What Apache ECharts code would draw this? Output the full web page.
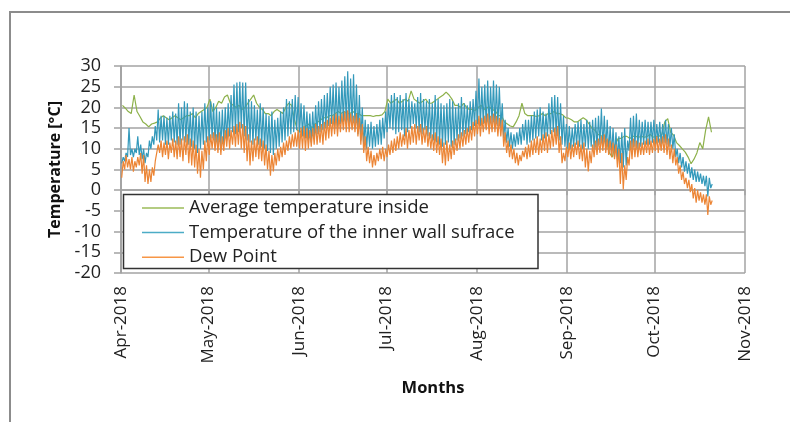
<!DOCTYPE html>
<html><head><meta charset="utf-8">
<script src="https://cdn.jsdelivr.net/npm/echarts@6/dist/echarts.min.js"></script>
<style>html,body{margin:0;padding:0;background:#fff}#c{width:790px;height:422px}</style>
</head><body><div id="c"></div>
<script>
// ---- data (one value per day from 1 Apr 2018) ----
const seriesNames = ['Average temperature inside', 'Temperature of the inner wall sufrace', 'Dew Point'];
const monthNames = ['Jan','Feb','Mar','Apr','May','Jun','Jul','Aug','Sep','Oct','Nov','Dec'];
const yMin = -20, yMax = 30, yStep = 5;

// Average temperature inside (daily)
const avgInside = [
20.5,19.8,19,18.5,23,19,17.8,16.5,16,15.3,
16,16.2,16.5,17.4,18,17.5,17,17.5,18,17.5,
17,17.5,18,18,18.5,17.5,18.5,19,19.5,20,
22,19,20,21.5,21,22.5,23,21,20.5,20,
20.5,19.5,20,21,22,23,21,20,19.5,18.5,
18.5,18,19,19.5,19,18.5,20,21,20.5,17,
14.5,14,15,15.5,16,15,16,16.5,17,17.5,
17.5,18,18,18.5,19,18.5,19,18.5,18.5,19,
18.5,18.5,18,18,18,18,17.8,18,18,18.2,
19,22,21,21.5,22,21,21.5,22,21.5,24,
22,21.5,21,21.5,22,21,21,21.5,22,22.5,
23,23.7,23,22,20.5,20.5,20,21,20,19.5,
19.5,19.3,20,20.5,19.5,20,20,19.5,19,18,
18,16.5,16,15.5,15.3,16.5,18,21,18.5,18,
18,18,17.8,18,18.5,18,18.5,18.5,19,18.5,
18.5,18.2,17.5,17.4,17,16.5,16.5,17,17.5,17,
16,15,14.5,13.5,13.3,12.5,12,9,8,11,
12.5,12.5,13,13,12.5,13,13,12.8,13,12.8,
13,13.5,12.8,13,13,13.5,16.5,17.3,14,13.3,
11.5,10.8,10,9.2,8,6.4,7.5,9,11.5,10,
14.5,17.7,14
];
// Inner wall surface: daily high / low
const wallHigh = [
8,9,15,10,10,13,11,10,9,12,
13,15.5,19.5,18,18,17.5,18,19,18.5,21,
20,21.5,21,19,20,19,18,19,21,20,
21.5,21,20,19,19.5,20,21,23,25.5,26,
26.2,26,26,22,21.5,20.5,19.5,21,20,18.5,
18,19,17,17.5,19,20,22,21.5,22,23,
22.5,21,20.5,19,18.5,19,20.5,21.5,22,23,
23.5,25,25.5,26,25,26.5,27.5,28.7,27,28,
25.5,23,20,17,16,16.5,15.5,16,17,17.5,
19,21,23,23.5,22.5,23,22,23.5,22,21.5,
21,22.5,23.5,22,21.5,22,21,23,22,21,
20.5,21,22,21.5,20,21,22.5,21,20.5,21.5,
22,24,27,25,25.5,26.5,25,26.5,25.5,25,
21,17,15,14,13.5,14,15,16,17,17,
18,19,19.5,20,19,18.5,21,22.5,23,22.5,
21,18,16,15.5,15,16,16.5,17,16,17,
16.5,17,17.5,18,19.7,18,17,15.5,15,14,
13,14,15,12,17.5,18,18.5,17,16.5,17,
16.5,16.5,17,16,16.5,16,17,16,15,13.5,
10,9,8,7,6.5,5.5,5,4.5,4,3.5,
3.5,3,1.5
];
const wallLow = [
6.5,7,8,8.5,8,9,8.5,7.5,6.5,8,
10,11,12,11.5,12,11,11,12,11.5,11,
11,12,11.5,11,10.5,10,9,10,11,11.5,
12,12.5,11,11,10.5,11,12,13,14,13.5,
14,15,13,12,11.5,11,12,11,10.5,10,
9.5,9,8.5,10,10.5,11.5,12,13,13.5,14,
14.5,14,13,12.5,12,11.5,12.5,13.5,14,14.5,
15,15.5,16,15,15,16,16.5,16,15.5,16,
15,13.5,12,10.5,10,10.5,10,10.5,11,11,
12.5,14,15,14.5,13.5,14,14.5,13,14,15,
16,15,14,13.5,14.5,13,12.5,12,11.5,11,
10.5,11,11.5,10.5,11,12,12.5,13,13.5,14,
14.5,15.5,16,15.5,16,15,15.5,16,15,15.5,
15,12.5,11.5,10.5,10,10.5,11,11,12,11,
11.5,12,12.5,13,12,12.5,13,13.5,14,13,
12,11,10.5,10,10,10.5,11,10.5,10,10.5,
10,10.5,10,10,11,10.5,10,9,8.5,8,
7.5,6.5,5.5,6,9.5,10,10.5,10,10.5,11,
11,11,11.5,11,11.5,11,11.5,11,10.5,10,
8,6.5,5.5,4.5,4,3,2.5,2,2,1.5,
1,-1.5,0.5
];
// Dew point: daily high / low
const dewHigh = [
7,8.5,7.5,8,7,8,9,8.5,6,5,
5.5,7,11,12,11.5,12,11.5,12.5,12,13,
12.5,13,13.5,12.5,12,11,10,9.5,12,13,
13.5,14,13.5,14,13,14.5,15,14.5,15.5,16,
16.5,16,15.5,13.5,12,12.5,13,12.5,12,11,
9.5,8.5,9,10,10.5,11.5,12,13,13.5,14,
14.5,15,15.5,15,14.5,15,16,15.5,16,16.5,
17,17.5,18,18.5,18,18.5,19,19.3,18.5,18,
18.5,17.5,16,13,10.5,9.5,8.5,9,10,10.5,
10,11,12,12.5,13,14,13.5,15,14.5,15.5,
16,15.5,16,15,15.5,14,13.5,14,13,12.5,
11.5,12,11,12,12.5,13.5,14,14.5,15,15.5,
16.5,17,18,17.5,18,18.5,18,18.5,18,17.5,
17,14,12,11,10,9,8.5,9.5,10.5,11,
12,12.5,13,12.5,13.5,14,13.5,14.5,15,15.5,
13,9,10.5,11.5,11,11.5,12,11,11.5,10,
9.5,11,12,12.5,13,13.5,12.5,12,11.5,11,
10,9,6,8,12,12.5,12,11.5,11.5,12,
12.5,12,12.5,13,12.5,13,13.5,12.5,11,10,
8,6,4.5,3,2.5,1.5,0.5,0,-0.5,-1,
-1,-1.5,-2.5
];
const dewLow = [
3,5,5.5,5,4.5,5.5,6,4,2,1.5,
2,3.5,7,9,8,8.5,7.5,9,8,7.5,
8,7,8.5,6.5,6,5.5,4,3,5,7,
8.5,10,9.5,9,8.5,9.5,10.5,10,11,10.5,
11,10,9,7,6,7,8,7.5,7,6,
5,3.5,4.5,6,7,8,8.5,9.5,10,10.5,
10.5,10,10,9.5,10,10.5,11,11,11.5,11,
12,12.5,13,13.5,13,14,14.5,14,14,14.5,
14,13,11,9,7,6.5,5.5,6,7,7.5,
7,8,8.5,9,9.5,10,10.5,11,10,11,
11.5,11,12,11,11.5,10.5,10,9.5,9,8.5,
6.5,6,7,7.5,8.5,9.5,10,10.5,11,11.5,
12,13,13.5,13,14,14.5,13.5,14,14,13,
13,10.5,9,8,7.5,6.5,6,7,8,7.5,
8,8.5,9,8.5,9,9.5,9,10,10.5,11,
9,6.5,7,8,7.5,8,8.5,7.5,7,5.5,
4.5,6.5,8,8.5,9,9.5,9,8.5,8,7.5,
5.5,1.5,0.2,2.5,6,7.5,8,8,8.5,8.5,
9,8.5,9,9.5,9,9.5,9,8.5,7.5,6.5,
6,4,2.5,1.5,0.5,-0.5,-2,-3,-2.5,-3,
-3.5,-6,-3.5
];

// ---- build ----
const DAY = 86400000;
const tStart = new Date(2018, 3, 1).getTime();
const tEnd = new Date(2018, 10, 1).getTime();
function daily(vals) { return vals.map((v, d) => [tStart + (d + 0.5) * DAY, v]); }
function zigzag(lo, hi) {
  const pts = [];
  for (let d = 0; d < lo.length; d++) {
    pts.push([tStart + (d + 0.25) * DAY, lo[d]]);
    pts.push([tStart + (d + 0.75) * DAY, hi[d]]);
  }
  return pts;
}
const gridColor = '#a3a3a3';
const FONT = 'Open Sans';
const chart = echarts.init(document.getElementById('c'), null, { renderer: 'canvas' });
chart.setOption({
  animation: false,
  backgroundColor: '#fff',
  grid: { left: 121, right: 45, top: 66, bottom: 149 },
  graphic: [
    { type: 'rect', shape: { x: 10, y: 12, width: 800, height: 430 }, style: { fill: 'none', stroke: '#8c8c8c', lineWidth: 2 }, z: 1 },
    { type: 'rect', shape: { x: 123.5, y: 194.5, width: 414.5, height: 74 }, style: { fill: '#fff', stroke: '#333', lineWidth: 1.5 }, z: 3 }
  ],
  legend: {
    orient: 'vertical', left: 137, top: 193, z: 4,
    icon: 'rect', itemWidth: 42, itemHeight: 1.5, itemGap: 4.6,
    textStyle: { fontFamily: FONT, fontSize: 18.5, color: '#222', lineHeight: 20 },
    data: seriesNames
  },
  xAxis: {
    type: 'time', min: tStart, max: tEnd, splitNumber: 7,
    minInterval: 28 * DAY, maxInterval: 31 * DAY,
    axisLine: { show: true, lineStyle: { color: gridColor, width: 1.5 } },
    axisTick: { show: true, length: 5, lineStyle: { color: gridColor, width: 1.5 } },
    splitLine: { show: true, lineStyle: { color: gridColor, width: 1.5 } },
    axisLabel: {
      rotate: 90, margin: 13, fontFamily: FONT, fontSize: 17, color: '#222',
      showMinLabel: true, showMaxLabel: true, hideOverlap: false,
      formatter: function (v) { const d = new Date(v); return monthNames[d.getMonth()] + '-' + d.getFullYear(); }
    },
    name: 'Months', nameLocation: 'middle', nameGap: 107,
    nameTextStyle: { fontFamily: FONT, fontWeight: 'bold', fontSize: 16.5, color: '#111' }
  },
  yAxis: {
    type: 'value', min: yMin, max: yMax, interval: yStep,
    axisLine: { show: true, lineStyle: { color: gridColor, width: 1.5 } },
    axisTick: { show: true, length: 7, lineStyle: { color: gridColor, width: 1.5 } },
    splitLine: { show: true, lineStyle: { color: gridColor, width: 1.5 } },
    axisLabel: { margin: 20, fontFamily: FONT, fontSize: 18, color: '#222' },
    name: 'Temperature [°C]', nameLocation: 'middle', nameRotate: 90, nameGap: 58,
    nameTextStyle: { fontFamily: FONT, fontWeight: 'bold', fontSize: 16, color: '#111' }
  },
  series: [
    { name: seriesNames[0], type: 'line', symbol: 'none', showSymbol: false, data: daily(avgInside),
      lineStyle: { color: '#8db14b', width: 1.2 }, itemStyle: { color: '#9bbb59' } },
    { name: seriesNames[1], type: 'line', symbol: 'none', showSymbol: false, data: zigzag(wallLow, wallHigh),
      lineStyle: { color: '#3399bb', width: 1.2 }, itemStyle: { color: '#4bacc6' } },
    { name: seriesNames[2], type: 'line', symbol: 'none', showSymbol: false, data: zigzag(dewLow, dewHigh),
      lineStyle: { color: '#ec8535', width: 1.2 }, itemStyle: { color: '#f79646' } }
  ]
});
</script></body></html>
